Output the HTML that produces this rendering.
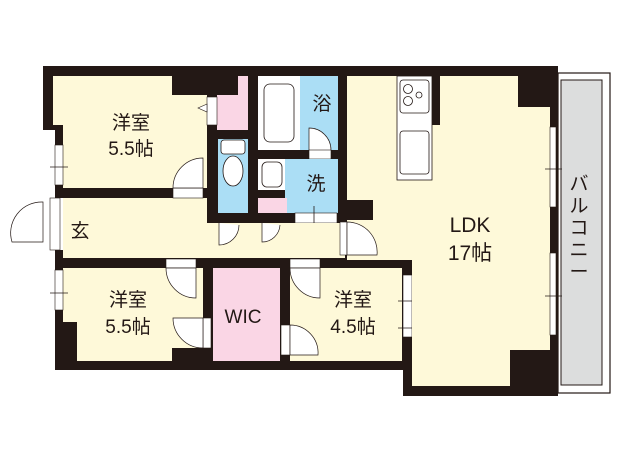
<!DOCTYPE html>
<html><head><meta charset="utf-8"><style>
body{margin:0;background:#fff;width:620px;height:465px;overflow:hidden}
svg text{font-family:"Liberation Sans","Noto Sans CJK JP",sans-serif;fill:#231815}
</style></head><body>
<svg width="620" height="465" viewBox="0 0 620 465" xmlns="http://www.w3.org/2000/svg">
<rect x="558" y="73" width="52" height="320" fill="#fff" stroke="#231815" stroke-width="1.2"/>
<rect x="561" y="80" width="41" height="305" fill="#dcdddd" stroke="#231815" stroke-width="1"/>
<polygon points="43,66 558,66 558,396 403,396 403,370 55,370 55,130 43,130" fill="#231815"/>
<polygon points="53,76 172,76 172,95 207,95 207,188 63,188 63,125 53,125" fill="#fef9d9"/>
<polygon points="238,76 248,76 248,130 217,130 217,95 238,95" fill="#fad6e5"/>
<rect x="207" y="97" width="10" height="28" fill="#fff" stroke="#231815" stroke-width="0.6"/>
<polygon points="207,104 198,108 207,112" fill="#fff" stroke="#231815" stroke-width="0.6"/>
<rect x="218" y="139" width="30" height="74" fill="#abdef5"/>
<rect x="221" y="140" width="24" height="14" rx="3" fill="#fff" stroke="#231815" stroke-width="0.8"/>
<ellipse cx="233" cy="171" rx="10" ry="15" fill="#fff" stroke="#231815" stroke-width="0.8"/>
<rect x="258" y="76" width="42" height="74" fill="#fff"/>
<rect x="264" y="84" width="30" height="58" rx="6" fill="#fff" stroke="#231815" stroke-width="0.8"/>
<rect x="300" y="76" width="38" height="74" fill="#abdef5"/>
<path d="M309,158 L309,128 A22,22 0 0 1 331,150" fill="#fff" stroke="#231815" stroke-width="0.7"/>
<rect x="309" y="150" width="22" height="9" fill="#fff" stroke="#231815" stroke-width="0.6"/>
<rect x="285" y="159" width="53" height="54" fill="#abdef5"/>
<polygon points="258,159 285,159 285,190 258,190" fill="#fff"/>
<rect x="262" y="162" width="20" height="25" rx="5" fill="#fff" stroke="#231815" stroke-width="0.8"/>
<rect x="258" y="198" width="29" height="15" fill="#fad6e5"/>
<rect x="295" y="213" width="42" height="10" fill="#fff" stroke="#231815" stroke-width="0.6"/>
<line x1="314" y1="206" x2="314" y2="226" stroke="#231815" stroke-width="0.8"/>
<polygon points="63,198 207,198 207,223 345,223 345,258 63,258" fill="#fef9d9"/>
<rect x="173" y="188" width="30" height="10" fill="#fff" stroke="#231815" stroke-width="0.6"/>
<path d="M173,188 A30,30 0 0 1 203,158 L203,188 Z" fill="#fff" stroke="#231815" stroke-width="0.7"/>
<path d="M219,223 L219,245 A20,20 0 0 0 239,225" fill="#fff" stroke="#231815" stroke-width="0.7"/>
<path d="M262,223 L262,242 A18,18 0 0 0 280,225" fill="#fff" stroke="#231815" stroke-width="0.7"/>
<rect x="43" y="198" width="20" height="52" fill="#fff"/>
<rect x="50" y="198" width="10" height="52" fill="#fff" stroke="#231815" stroke-width="0.6"/>
<path d="M43,202 A31,31 0 0 0 12,242 L43,242 Z" fill="#fff" stroke="#231815" stroke-width="0.7"/>
<rect x="55" y="145" width="8" height="40" fill="#fff" stroke="#231815" stroke-width="0.6"/>
<line x1="50" y1="167" x2="68" y2="167" stroke="#231815" stroke-width="0.8"/>
<polygon points="63,268 203,268 203,348 172,348 172,361 77,361 77,322 63,322" fill="#fef9d9"/>
<rect x="55" y="270" width="8" height="40" fill="#fff" stroke="#231815" stroke-width="0.6"/>
<line x1="50" y1="293" x2="68" y2="293" stroke="#231815" stroke-width="0.8"/>
<rect x="166" y="259" width="30" height="9" fill="#fff" stroke="#231815" stroke-width="0.6"/>
<path d="M166,268 A30,30 0 0 0 196,298 L196,268 Z" fill="#fff" stroke="#231815" stroke-width="0.7"/>
<rect x="203" y="318" width="8" height="30" fill="#fff" stroke="#231815" stroke-width="0.6"/>
<path d="M203,318 L173,318 A30,30 0 0 0 203,348 Z" fill="#fff" stroke="#231815" stroke-width="0.7"/>
<rect x="213" y="268" width="67" height="93" fill="#fad6e5"/>
<rect x="290" y="268" width="112" height="93" fill="#fef9d9"/>
<rect x="290" y="259" width="30" height="9" fill="#fff" stroke="#231815" stroke-width="0.6"/>
<path d="M290,268 A30,30 0 0 0 320,298 L320,268 Z" fill="#fff" stroke="#231815" stroke-width="0.7"/>
<rect x="281" y="325" width="9" height="30" fill="#fff" stroke="#231815" stroke-width="0.6"/>
<path d="M290,325 A28,28 0 0 1 318,355 L290,355 Z" fill="#fff" stroke="#231815" stroke-width="0.7"/>
<rect x="403" y="275" width="9" height="62" fill="#fff" stroke="#231815" stroke-width="0.6"/>
<line x1="398" y1="301" x2="416" y2="301" stroke="#231815" stroke-width="0.8"/>
<line x1="398" y1="328" x2="416" y2="328" stroke="#231815" stroke-width="0.8"/>
<polygon points="347,76 518,76 518,107 550,107 550,350 510,350 510,386 412,386 412,260 347,260 347,220 373,220 373,200 347,200" fill="#fef9d9"/>
<rect x="340" y="222" width="7" height="33" fill="#fff" stroke="#231815" stroke-width="0.6"/>
<path d="M347,222 A30,30 0 0 1 377,255 L347,255 Z" fill="#fff" stroke="#231815" stroke-width="0.7"/>
<rect x="432" y="76" width="8" height="49" fill="#231815"/>
<rect x="397" y="76" width="35" height="104" fill="#fff" stroke="#231815" stroke-width="0.8"/>
<rect x="400" y="80" width="29" height="33" rx="3" fill="#fff" stroke="#231815" stroke-width="0.8"/>
<circle cx="408" cy="89" r="4.5" fill="#fff" stroke="#231815" stroke-width="0.8"/>
<circle cx="408" cy="101" r="4.5" fill="#fff" stroke="#231815" stroke-width="0.8"/>
<circle cx="419" cy="95" r="3" fill="#fff" stroke="#231815" stroke-width="0.8"/>
<rect x="400" y="131" width="29" height="43" rx="3" fill="#fff" stroke="#231815" stroke-width="0.8"/>
<rect x="550" y="127" width="6" height="80" fill="#fff" stroke="#231815" stroke-width="0.6"/>
<line x1="545" y1="169" x2="562" y2="169" stroke="#231815" stroke-width="0.8"/>
<rect x="550" y="253" width="6" height="82" fill="#fff" stroke="#231815" stroke-width="0.6"/>
<line x1="545" y1="296" x2="562" y2="296" stroke="#231815" stroke-width="0.8"/>
<g font-size="19" text-anchor="middle">
<text x="131" y="129">洋室</text>
<text x="131" y="155">5.5帖</text>
<text x="128" y="306">洋室</text>
<text x="128" y="333">5.5帖</text>
<text x="353" y="306">洋室</text>
<text x="353" y="333">4.5帖</text>
<text x="243" y="323">WIC</text>
<text x="322" y="110">浴</text>
<text x="316" y="190">洗</text>
<text x="80" y="237">玄</text>
<text x="579" y="190">バ</text>
<text x="579" y="212">ル</text>
<text x="579" y="234">コ</text>
<text x="579" y="256">ニ</text>
<text x="579" y="278">ー</text>
</g>
<g font-size="21" text-anchor="middle">
<text x="470" y="232">LDK</text>
<text x="470" y="260">17帖</text>
</g>
</svg>
</body></html>
